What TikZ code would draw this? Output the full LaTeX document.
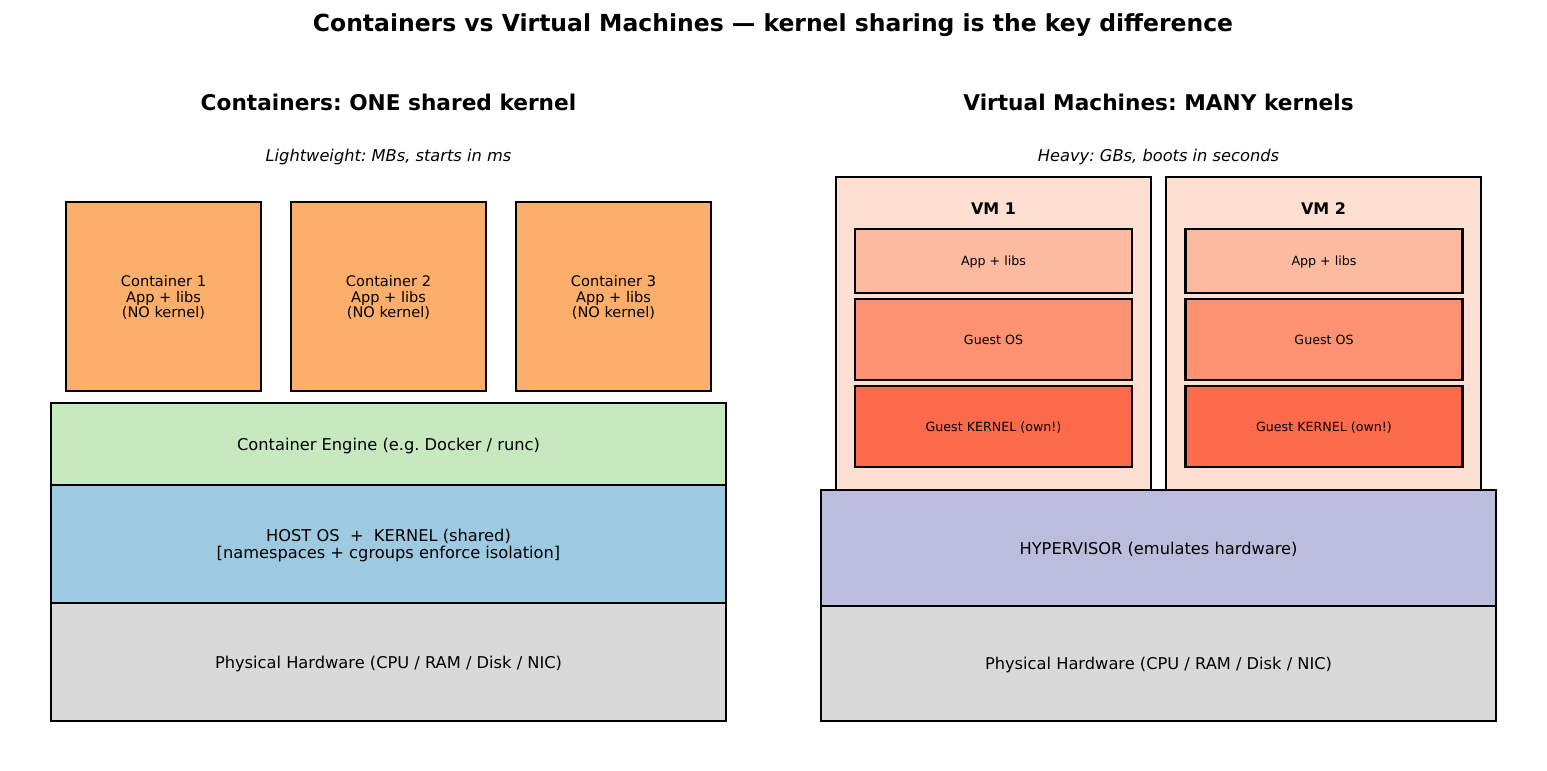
\documentclass[tikz,border=0pt]{standalone}
\usepackage{fontspec}
\setmainfont{DejaVu Sans}
\frenchspacing

\definecolor{contfill}{HTML}{FDAE6B}
\definecolor{enginefill}{HTML}{C7E9C0}
\definecolor{hostfill}{HTML}{9ECAE1}
\definecolor{hwfill}{HTML}{D9D9D9}
\definecolor{hyperfill}{HTML}{BCBDDC}
\definecolor{vmfill}{HTML}{FEE0D2}
\definecolor{appfill}{HTML}{FCBBA1}
\definecolor{guestfill}{HTML}{FC9272}
\definecolor{kernfill}{HTML}{FB6A4A}

\tikzset{
  layer/.style 2 args={draw=black, line width=1.5pt, inner sep=0pt, align=center,
    text depth=0pt, minimum width=#1*0.72pt, minimum height=#2*0.72pt},
  bigtxt/.style={font=\fontsize{11.7}{12.6}\selectfont},
  midtxt/.style={font=\fontsize{10.5}{11.2}\selectfont},
  smalltxt/.style={font=\fontsize{9.1}{10}\selectfont},
  subtxt/.style={font=\fontsize{11.7}{12.6}\selectfont\itshape},
  vmname/.style={font=\fontsize{11.5}{12.6}\selectfont\bfseries},
  heading/.style={font=\fontsize{15.6}{18}\selectfont\bfseries},
}

\begin{document}
\begin{tikzpicture}[x=0.72pt, y=-0.72pt]
\useasboundingbox (0,0) rectangle (1547,770);
\node[font=\fontsize{16.9}{20}\selectfont\bfseries] (title) at (773,25)
  {Containers vs Virtual Machines — kernel sharing is the key difference};
% containers side
\node[heading] (conthead) at (388.5,102) {Containers: ONE shared kernel};
\node[subtxt] (contsub) at (388.5,157.5) {Lightweight: MBs, starts in ms};
\node[layer={195}{189}, fill=contfill, midtxt] (c1) at (163.5,296.5) {Container 1\\App + libs\\(NO kernel)};
\node[layer={195}{189}, fill=contfill, midtxt] (c2) at (388.5,296.5) {Container 2\\App + libs\\(NO kernel)};
\node[layer={195}{189}, fill=contfill, midtxt] (c3) at (613.5,296.5) {Container 3\\App + libs\\(NO kernel)};
\node[layer={675}{82}, fill=enginefill, bigtxt] (engine) at (388.5,444) {Container Engine (e.g. Docker / runc)};
\node[layer={675}{118}, fill=hostfill, bigtxt] (hostos) at (388.5,544)
  {HOST OS\ \ +\ \ KERNEL (shared)\\{}[namespaces + cgroups enforce isolation]};
\node[layer={675}{118}, fill=hwfill, bigtxt] (hwcont) at (388.5,662) {Physical Hardware (CPU / RAM / Disk / NIC)};
% virtual machines side
\node[heading] (vmhead) at (1158.5,102) {Virtual Machines: MANY kernels};
\node[subtxt] (vmsub) at (1158.5,157.5) {Heavy: GBs, boots in seconds};
\node[layer={315}{313}, fill=vmfill] (vm1) at (993.5,333.5) {};
\node[layer={315}{313}, fill=vmfill] (vm2) at (1323.5,333.5) {};
\node[vmname] (vm1name) at (993.5,209) {VM 1};
\node[vmname] (vm2name) at (1323.5,209) {VM 2};
\node[layer={277}{64}, fill=appfill, smalltxt] (app1) at (993.5,261) {App + libs};
\node[layer={277}{81}, fill=guestfill, smalltxt] (guest1) at (993.5,339.5) {Guest OS};
\node[layer={277}{81}, fill=kernfill, smalltxt] (kern1) at (993.5,426.5) {Guest KERNEL (own!)};
\node[layer={277}{64}, fill=appfill, smalltxt] (app2) at (1324,261) {App + libs};
\node[layer={277}{81}, fill=guestfill, smalltxt] (guest2) at (1324,339.5) {Guest OS};
\node[layer={277}{81}, fill=kernfill, smalltxt] (kern2) at (1324,426.5) {Guest KERNEL (own!)};
\node[layer={675}{116}, fill=hyperfill, bigtxt] (hyper) at (1158.5,548) {HYPERVISOR (emulates hardware)};
\node[layer={675}{115}, fill=hwfill, bigtxt] (hwvm) at (1158.5,663.5) {Physical Hardware (CPU / RAM / Disk / NIC)};
\end{tikzpicture}
\end{document}
